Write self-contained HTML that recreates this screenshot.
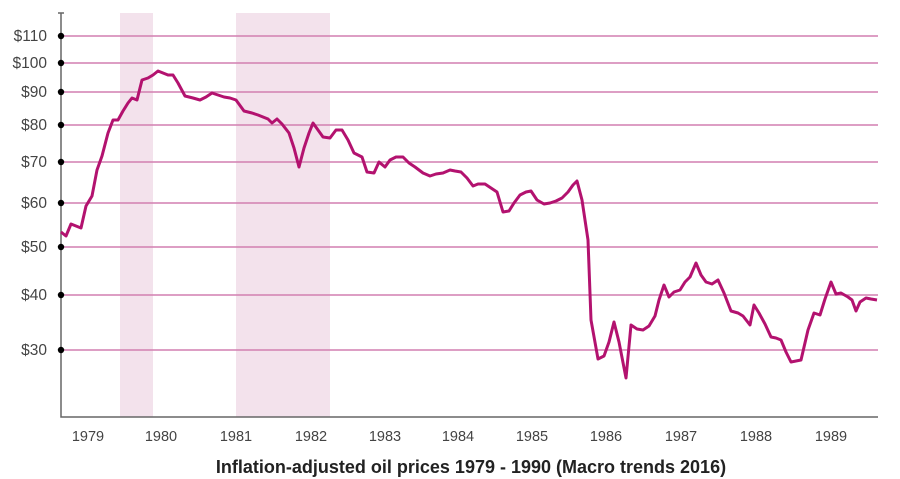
<!DOCTYPE html><html><head><style>body{margin:0;background:#fff}svg{display:block}text{font-family:"Liberation Sans",sans-serif}</style></head><body>
<svg width="900" height="479" xmlns="http://www.w3.org/2000/svg">
<rect x="120" y="13" width="33" height="404" fill="#f3e2ec"/>
<rect x="236" y="13" width="94" height="404" fill="#f3e2ec"/>
<g stroke="#d27fb0" stroke-width="1.5">
<line x1="61" x2="878" y1="36" y2="36"/><line x1="61" x2="878" y1="63" y2="63"/><line x1="61" x2="878" y1="92" y2="92"/><line x1="61" x2="878" y1="125" y2="125"/><line x1="61" x2="878" y1="162" y2="162"/><line x1="61" x2="878" y1="203" y2="203"/><line x1="61" x2="878" y1="247" y2="247"/><line x1="61" x2="878" y1="295" y2="295"/><line x1="61" x2="878" y1="350" y2="350"/>
</g>
<path d="M61 13V417H878" fill="none" stroke="#666" stroke-width="1.5"/>
<line x1="58" x2="64" y1="13" y2="13" stroke="#666" stroke-width="1.5"/>
<g fill="#000"><circle cx="61" cy="36" r="3.2"/><circle cx="61" cy="63" r="3.2"/><circle cx="61" cy="92" r="3.2"/><circle cx="61" cy="125" r="3.2"/><circle cx="61" cy="162" r="3.2"/><circle cx="61" cy="203" r="3.2"/><circle cx="61" cy="247" r="3.2"/><circle cx="61" cy="295" r="3.2"/><circle cx="61" cy="350" r="3.2"/></g>
<g font-size="15.5" fill="#444" text-anchor="end">
<text x="47" y="41">$110</text><text x="47" y="68">$100</text><text x="47" y="97">$90</text><text x="47" y="130">$80</text><text x="47" y="167">$70</text><text x="47" y="208">$60</text><text x="47" y="252">$50</text><text x="47" y="300">$40</text><text x="47" y="355">$30</text>
</g>
<g font-size="14.5" fill="#444" text-anchor="middle">
<text x="88" y="441">1979</text><text x="161" y="441">1980</text><text x="236" y="441">1981</text><text x="311" y="441">1982</text><text x="385" y="441">1983</text><text x="458" y="441">1984</text><text x="532" y="441">1985</text><text x="606" y="441">1986</text><text x="681" y="441">1987</text><text x="756" y="441">1988</text><text x="831" y="441">1989</text>
</g>
<text x="471" y="473" font-size="18" font-weight="bold" fill="#222" text-anchor="middle">Inflation-adjusted oil prices 1979 - 1990 (Macro trends 2016)</text>
<polyline fill="none" stroke="#b3126f" stroke-width="3" stroke-linejoin="round" points="61,232 66,236 71,224 76,226 81,228 86,206 92,196 97,170 102,156 108,133 113,120 118,120 123,111 128,103 132,98 137,100 142,80 148,78 153,75 158,71 163,73 168,75 173,75 178,83 185,96 193,98 200,100 206,97 212,93 218,95 224,97 230,98 236,100 244,111 252,113 258,115 263,117 268,119 272,123 277,119 282,124 289,133 294,148 299,167 304,148 309,133 313,123 318,130 323,137 330,138 336,130 342,130 348,140 354,153 362,157 367,172 374,173 379,162 385,167 390,160 396,157 403,157 409,163 415,167 423,173 430,176 436,174 443,173 450,170 455,171 461,172 467,178 473,186 478,184 485,184 491,188 497,192 503,212 509,211 514,203 520,195 526,192 531,191 537,200 544,204 550,203 556,201 562,198 568,192 573,185 577,181 582,200 588,240 591,320 598,359 604,356 609,342 614,322 619,342 626,378 631,325 637,329 643,330 649,326 655,316 659,300 664,285 669,297 674,292 680,290 685,282 690,277 696,263 701,275 706,282 712,284 718,280 724,293 731,311 738,313 743,316 750,325 754,305 759,313 765,324 771,337 776,338 781,340 786,352 791,362 796,361 801,360 808,330 814,313 820,315 825,299 831,282 836,294 841,293 848,297 852,300 856,311 860,302 866,298 871,299 877,300"/>
</svg>
</body></html>
